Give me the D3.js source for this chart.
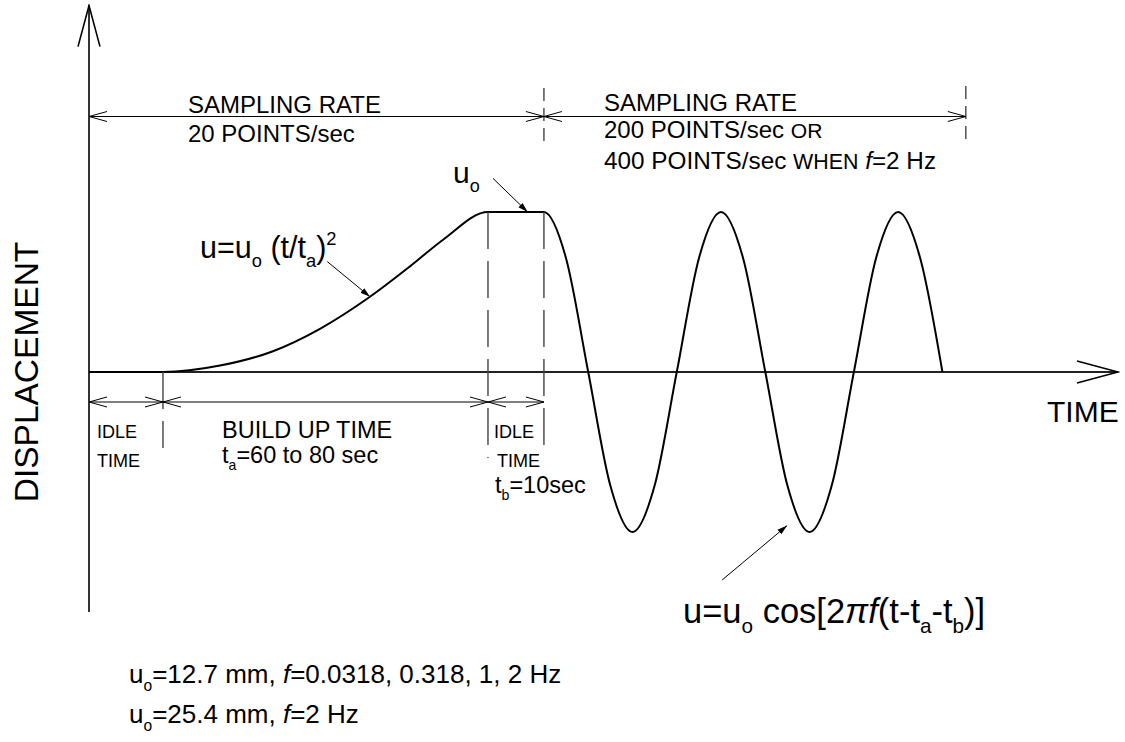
<!DOCTYPE html>
<html>
<head>
<meta charset="utf-8">
<script src="https://cdn.jsdelivr.net/npm/d3@7"></script>
<style>
  html, body { margin: 0; padding: 0; background: #fff; }
  svg { display: block; font-family: "Liberation Sans", Arial, sans-serif; }
</style>
</head>
<body>
<svg id="chart" width="1125" height="742"></svg>
<script>
// displacement history (time in sec-like units, displacement in u/uo)
const curveTime = [0, 13.66, 24.19, 33.97, 42.65, 51.88, 59.27, 65.5, 73.67, 84.0,
  88.09, 92.18, 96.26, 100.35, 104.44, 108.53, 112.61, 116.7, 120.79, 124.88,
  128.96, 133.05, 137.14, 141.23, 145.31, 149.4, 153.49, 157.58];
const curveDisp = [0, 0, 0.04, 0.13, 0.27, 0.47, 0.66, 0.83, 1.0, 1.0,
  0.71, 0, -0.71, -1, -0.71, 0, 0.71, 1, 0.71, 0,
  -0.71, -1, -0.71, 0, 0.71, 1, 0.71, 0];

// phase boundaries (time units)
const phaseTimes = [0, 13.66, 73.67, 84.0];   // start, idle end, build-up end, hold end
const samplingTimes = [0, 84.0, 161.9];       // sampling-rate spans
const timeExtent = [0, 190];
const dispExtent = [-1.5, 2.29];

const svg = d3.select("#chart");
const x = d3.scaleLinear().domain(timeExtent).range([89, 1118]);
const y = d3.scaleLinear().domain([-1, 1]).range([532, 212]);

// markers
const defs = svg.append("defs");
defs.append("marker")
  .attr("id", "dim").attr("viewBox", "0 -6 20 12")
  .attr("refX", 19).attr("refY", 0)
  .attr("markerWidth", 20).attr("markerHeight", 12)
  .attr("markerUnits", "userSpaceOnUse")
  .attr("orient", "auto-start-reverse")
  .append("path").attr("d", "M1,-5L19,0L1,5")
  .attr("fill", "none").attr("stroke", "#000").attr("stroke-width", 1);
defs.append("marker")
  .attr("id", "axisHead").attr("viewBox", "0 -12 44 24")
  .attr("refX", 42).attr("refY", 0)
  .attr("markerWidth", 44).attr("markerHeight", 24)
  .attr("markerUnits", "userSpaceOnUse")
  .attr("orient", "auto")
  .append("path").attr("d", "M1,-11L42,0L1,11")
  .attr("fill", "none").attr("stroke", "#000").attr("stroke-width", 1.6);
defs.append("marker")
  .attr("id", "lead").attr("viewBox", "0 -4 11 8")
  .attr("refX", 10).attr("refY", 0)
  .attr("markerWidth", 11).attr("markerHeight", 8)
  .attr("markerUnits", "userSpaceOnUse")
  .attr("orient", "auto")
  .append("path").attr("d", "M0,-3L10,0L0,3Z").attr("fill", "#000");

// axes
svg.append("line")
  .attr("x1", x(0)).attr("x2", x(0))
  .attr("y1", y(dispExtent[0])).attr("y2", y(dispExtent[1]))
  .attr("stroke", "#000").attr("stroke-width", 1.6)
  .attr("marker-end", "url(#axisHead)");
svg.append("line")
  .attr("x1", x(timeExtent[0])).attr("x2", x(timeExtent[1]))
  .attr("y1", y(0)).attr("y2", y(0))
  .attr("stroke", "#222").attr("stroke-width", 2.2)
  .attr("marker-end", "url(#axisHead)");

// displacement curve
const line = d3.line()
  .x((d, i) => x(curveTime[i]))
  .y(d => y(d))
  .curve(d3.curveMonotoneX);
svg.append("path")
  .attr("d", line(curveDisp))
  .attr("fill", "none").attr("stroke", "#000").attr("stroke-width", 2);

// dashed extension lines
const dash = (t, y1, y2, pattern) => svg.append("line")
  .attr("x1", x(t)).attr("x2", x(t)).attr("y1", y1).attr("y2", y2)
  .attr("stroke", "#444").attr("stroke-width", 1.4)
  .attr("stroke-dasharray", pattern);
dash(phaseTimes[1], y(0), 448, "37,12");
dash(phaseTimes[2], y(1), 458, "37,12");
dash(phaseTimes[3], y(1), 448, "37,12");
dash(samplingTimes[1], 88, 148, "13,7");
dash(samplingTimes[2], 86, 146, "13,7");

// dimension lines
const dimLine = (t1, t2, yy) => svg.append("line")
  .attr("x1", x(t1)).attr("x2", x(t2)).attr("y1", yy).attr("y2", yy)
  .attr("stroke", "#000").attr("stroke-width", 1)
  .attr("marker-start", "url(#dim)").attr("marker-end", "url(#dim)");
d3.pairs(samplingTimes).forEach(([a, b]) => dimLine(a, b, 116.5));
d3.pairs(phaseTimes).forEach(([a, b]) => dimLine(a, b, 402));

// leader arrows (data coords)
const leaders = [
  [[44.0, 0.69], [51.9, 0.47]],
  [[74.6, 1.21], [81.0, 1.0]],
  [[116.9, -1.30], [128.9, -0.96]]
];
leaders.forEach(([p, q]) => svg.append("line")
  .attr("x1", x(p[0])).attr("y1", y(p[1]))
  .attr("x2", x(q[0])).attr("y2", y(q[1]))
  .attr("stroke", "#000").attr("stroke-width", 1)
  .attr("marker-end", "url(#lead)"));

// text with sub/superscripts
function rich(px, py, size, parts) {
  const t = svg.append("text").attr("x", px).attr("y", py)
    .attr("font-size", size).attr("fill", "#000");
  let shift = 0;
  parts.forEach(p => {
    const [str, kind] = typeof p === "string" ? [p, ""] : p;
    const target = kind === "sub" ? size * 0.3 : kind === "sup" ? -size * 0.42 : 0;
    const ts = t.append("tspan").text(str).attr("dy", target - shift);
    shift = target;
    if (kind === "sub" || kind === "sup") ts.attr("font-size", size * 0.6);
    if (kind === "i") ts.attr("font-style", "italic");
    if (kind === "small") ts.attr("font-size", size * 0.88);
  });
  return t;
}

rich(188, 113, 24, ["SAMPLING RATE"]);
rich(188, 142, 24, ["20 POINTS/sec"]);
rich(604, 111, 24, ["SAMPLING RATE"]);
rich(604, 138, 24, ["200 POINTS/sec ", ["OR", "small"]]);
rich(604, 169, 24.3, ["400 POINTS/sec ", ["WHEN", "small"], " ", ["f", "i"], "=2 Hz"]);

rich(97, 438, 18, ["IDLE"]);
rich(97, 467, 18, ["TIME"]);
rich(222, 438, 23.5, ["BUILD UP TIME"]);
rich(222, 463, 23.5, ["t", ["a", "sub"], "=60 to 80 sec"]);
rich(494, 438, 18, ["IDLE"]);
rich(497, 467, 18, ["TIME"]);
rich(495, 493, 23.5, ["t", ["b", "sub"], "=10sec"]);

rich(1047, 422, 30, ["TIME"]);
svg.append("text")
  .attr("transform", "translate(38,372) rotate(-90)")
  .attr("text-anchor", "middle").attr("font-size", 33.5)
  .text("DISPLACEMENT");

rich(200, 258, 30.5, ["u=u", ["o", "sub"], " (t/t", ["a", "sub"], ")", ["2", "sup"]]);
rich(453, 183, 30, ["u", ["o", "sub"]]);
rich(683, 623, 34.5, ["u=u", ["o", "sub"], " cos[2", ["\u03c0", "i"], ["f", "i"], "(t-t", ["a", "sub"], "-t", ["b", "sub"], ")]"]);

rich(129, 683, 26, ["u", ["o", "sub"], "=12.7 mm, ", ["f", "i"], "=0.0318, 0.318, 1, 2 Hz"]);
rich(129, 723, 26, ["u", ["o", "sub"], "=25.4 mm, ", ["f", "i"], "=2 Hz"]);
</script>
</body>
</html>
